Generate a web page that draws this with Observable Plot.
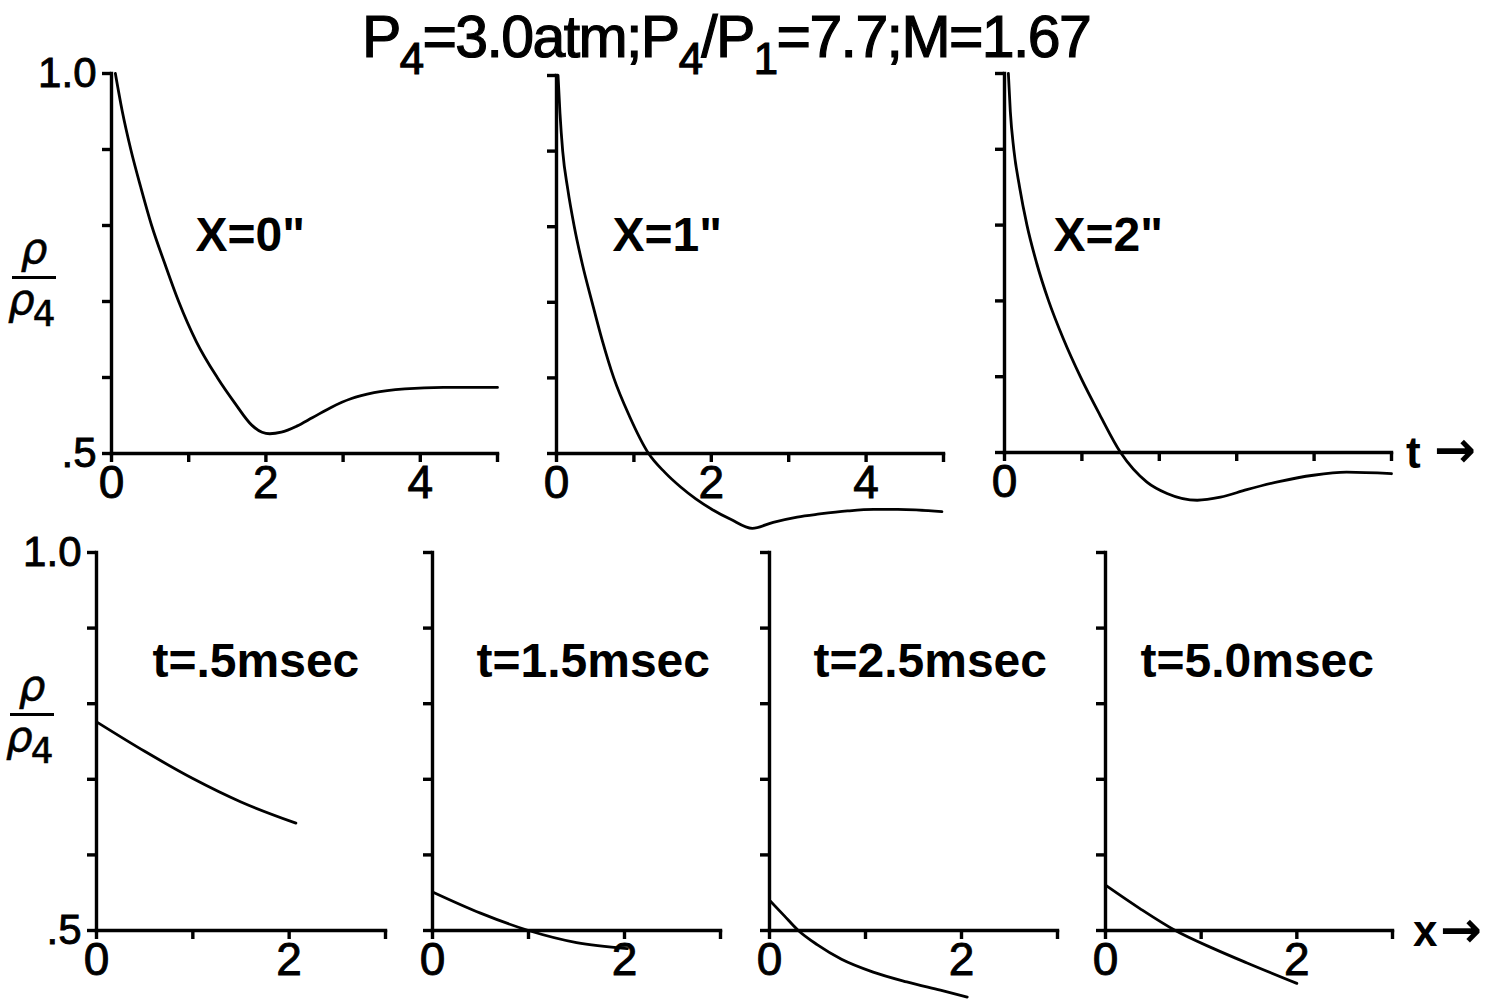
<!DOCTYPE html>
<html>
<head>
<meta charset="utf-8">
<script src="https://cdn.jsdelivr.net/npm/d3@7"></script>
<script src="https://cdn.jsdelivr.net/npm/@observablehq/plot@0.6"></script>
<style>
  html, body { margin: 0; padding: 0; background: white; }
  #root { position: relative; width: 1486px; height: 999px; background: white; overflow: hidden;
          font-family: "Liberation Sans", Arial, sans-serif; color: black; }
  .panel { position: absolute; }
  .panel svg g[aria-label*="axis"] text { font-size: 46px; fill: black; stroke: black; stroke-width: 0.9px; }
  .panel svg g[aria-label^="y-axis"] text { font-size: 42px; }
  .title { position: absolute; left: 362px; top: 8px; font-size: 59px; line-height: 1; white-space: nowrap;
           letter-spacing: -1.6px; -webkit-text-stroke: 1.2px black; }
  .title .sub { position: relative; top: 0.4em; font-size: 0.74em; }
  .frac { position: absolute; width: 44px; text-align: center; font-family: "DejaVu Sans", sans-serif; font-style: italic;
          font-size: 42px; line-height: 1; -webkit-text-stroke: 0.6px black; }
  .frac .bar { height: 3px; background: black; margin: 6px 0 0 0; }
  .frac .den { position: relative; left: -4px; }
  .frac sub { font-style: normal; font-size: 0.85em; position: relative; top: 0.35em; vertical-align: baseline; line-height: 0; margin-left: -2px; }
  .tag { position: absolute; font-size: 44px; font-weight: 700; line-height: 1; white-space: nowrap; }
  .arrow { position: absolute; font-family: "DejaVu Sans", sans-serif; font-size: 50px; font-weight: 700; line-height: 1; }
</style>
</head>
<body>
<div id="root">
  <div class="title">P<span class="sub">4</span>=3.0atm;P<span class="sub">4</span>/P<span class="sub">1</span>=7.7;M=1.67</div>
  <div class="frac" style="left:12px; top:228px;"><div>ρ</div><div class="bar"></div><div class="den">ρ<sub>4</sub></div></div>
  <div class="frac" style="left:10px; top:665px;"><div>ρ</div><div class="bar"></div><div class="den">ρ<sub>4</sub></div></div>
  <div class="tag" style="left:1406px; top:431px;">t</div>
  <div class="arrow" style="left:1434px; top:425px;">→</div>
  <div class="tag" style="left:1413px; top:909px;">x</div>
  <div class="arrow" style="left:1440px; top:905px;">→</div>
</div>
<script>
// ---- data ----
// Top row: rho/rho4 versus t (msec) at fixed stations
const panelLabelsTop = ['X=0"', 'X=1"', 'X=2"'];
const tX0 = [0.05, 0.14, 0.25, 0.38, 0.52, 0.69, 0.87, 1.1, 1.37, 1.6, 1.82, 1.95, 2.05, 2.2, 2.4, 2.6, 2.85, 3.1, 3.4, 3.8, 4.3, 5.0];
const rX0 = [1.0, 0.95, 0.9, 0.85, 0.8, 0.75, 0.7, 0.647, 0.6, 0.566, 0.537, 0.528, 0.526, 0.528, 0.536, 0.547, 0.561, 0.572, 0.58, 0.585, 0.587, 0.587];
const tX1 = [0.02, 0.045, 0.08, 0.145, 0.23, 0.335, 0.46, 0.59, 0.74, 0.94, 1.19, 1.4, 1.6, 1.8, 2.01, 2.25, 2.53, 2.8, 3.11, 3.4, 3.76, 4.1, 4.41, 4.98];
const rX1 = [1.0, 0.95, 0.9, 0.85, 0.8, 0.75, 0.7, 0.65, 0.6, 0.55, 0.5, 0.475, 0.456, 0.44, 0.426, 0.413, 0.401, 0.409, 0.416, 0.42, 0.424, 0.426, 0.426, 0.423];
const tX2 = [0.05, 0.075, 0.12, 0.195, 0.29, 0.415, 0.57, 0.76, 0.98, 1.23, 1.5, 1.84, 2.1, 2.49, 2.79, 3.13, 3.56, 3.99, 4.42, 5.0];
const rX2 = [1.0, 0.95, 0.9, 0.85, 0.8, 0.75, 0.7, 0.65, 0.6, 0.55, 0.5, 0.461, 0.446, 0.437, 0.441, 0.451, 0.462, 0.47, 0.474, 0.472];
// Bottom row: rho/rho4 versus x (in) at fixed times
const panelLabelsBottom = ["t=.5msec", "t=1.5msec", "t=2.5msec", "t=5.0msec"];
const xT05 = [0, 0.5, 1.0, 1.5, 2.07];
const rT05 = [0.776, 0.737, 0.701, 0.67, 0.642];
const xT15 = [0, 0.5, 1.0, 1.5, 2.03];
const rT15 = [0.551, 0.523, 0.5, 0.484, 0.476];
const xT25 = [0, 0.15, 0.3, 0.5, 0.75, 1.08, 1.43, 1.78, 2.06];
const rT25 = [0.54, 0.52, 0.5, 0.481, 0.462, 0.445, 0.432, 0.421, 0.412];
const xT50 = [0, 0.36, 0.73, 1.13, 1.48, 2.0];
const rT50 = [0.56, 0.529, 0.5, 0.476, 0.457, 0.43];
// axis ticks
const yTicks = [0.5, 0.6, 0.7, 0.8, 0.9, 1.0];
const tTicks = [0, 1, 2, 3, 4, 5];
const xTicks = [0, 1, 2, 3];

const zip = (xs, ys) => xs.map((x, i) => ({x, v: ys[i]}));

function panel(o) {
  const svg = Plot.plot({
    width: o.width, height: o.height,
    marginLeft: o.mL, marginRight: o.mR, marginTop: o.mT, marginBottom: o.mB,
    style: {background: "transparent", overflow: "visible", fontFamily: '"Liberation Sans", Arial, sans-serif', fontSize: "44px", color: "black"},
    x: {domain: [0, o.ticks[o.ticks.length - 1]], ticks: o.ticks, tickSize: 9, tickPadding: 3, line: true, label: null,
        tickFormat: d => o.xLabels.includes(d) ? String(d) : ""},
    y: {domain: [0.5, 1.0], ticks: yTicks, tickSize: 9, tickPadding: 6, line: true, label: null,
        tickFormat: d => o.yLabels ? (d === 1 ? "1.0" : d === 0.5 ? ".5" : "") : ""},
    marks: [
      Plot.line(zip(o.xs, o.vs), {x: "x", y: "v", curve: "monotone-x", stroke: "black", strokeWidth: 2.8}),
      Plot.text([o.label], {text: d => d, frameAnchor: "top-left", textAnchor: "start", dx: o.ldx, dy: o.ldy,
        fontSize: 48, fontWeight: 700, fill: "black"})
    ]
  });
  // thicken axis lines and ticks (pen-drawn look)
  svg.querySelectorAll("path, line, rect, polyline").forEach(el => {
    const inCurve = el.closest('g[aria-label="line"]');
    const w = inCurve ? "2.8" : "3.4";
    el.setAttribute("stroke-width", w);
    el.style.strokeWidth = w + "px";
    if (!inCurve) el.style.shapeRendering = "auto";
  });
  const div = document.createElement("div");
  div.className = "panel";
  div.style.left = o.left + "px";
  div.style.top = o.top + "px";
  div.appendChild(svg);
  document.getElementById("root").appendChild(div);
}

// top row
panel({xs: tX0, vs: rX0, ticks: tTicks, xLabels: [0, 2, 4], yLabels: true, label: panelLabelsTop[0],
  left: 0, top: 0, width: 540, height: 538, mL: 111, mR: 43, mT: 73, mB: 85, ldx: 84, ldy: 143});
panel({xs: tX1, vs: rX1, ticks: tTicks, xLabels: [0, 2, 4], yLabels: false, label: panelLabelsTop[1],
  left: 450, top: 0, width: 540, height: 538, mL: 106, mR: 47, mT: 75, mB: 85, ldx: 56, ldy: 141});
panel({xs: tX2, vs: rX2, ticks: tTicks, xLabels: [0], yLabels: false, label: panelLabelsTop[2],
  left: 900, top: 0, width: 586, height: 538, mL: 104, mR: 95, mT: 73, mB: 86, ldx: 49, ldy: 143});
// bottom row
panel({xs: xT05, vs: rT05, ticks: xTicks, xLabels: [0, 2], yLabels: true, label: panelLabelsBottom[0],
  left: 0, top: 500, width: 430, height: 499, mL: 96, mR: 45, mT: 52, mB: 69, ldx: 56, ldy: 90});
panel({xs: xT15, vs: rT15, ticks: xTicks, xLabels: [0, 2], yLabels: false, label: panelLabelsBottom[1],
  left: 340, top: 500, width: 420, height: 499, mL: 92, mR: 40, mT: 52, mB: 69, ldx: 44, ldy: 90});
panel({xs: xT25, vs: rT25, ticks: xTicks, xLabels: [0, 2], yLabels: false, label: panelLabelsBottom[2],
  left: 680, top: 500, width: 420, height: 499, mL: 89, mR: 43, mT: 52, mB: 69, ldx: 44, ldy: 90});
panel({xs: xT50, vs: rT50, ticks: xTicks, xLabels: [0, 2], yLabels: false, label: panelLabelsBottom[3],
  left: 1020, top: 500, width: 420, height: 499, mL: 85, mR: 48, mT: 52, mB: 69, ldx: 35, ldy: 90});
</script>
</body>
</html>
